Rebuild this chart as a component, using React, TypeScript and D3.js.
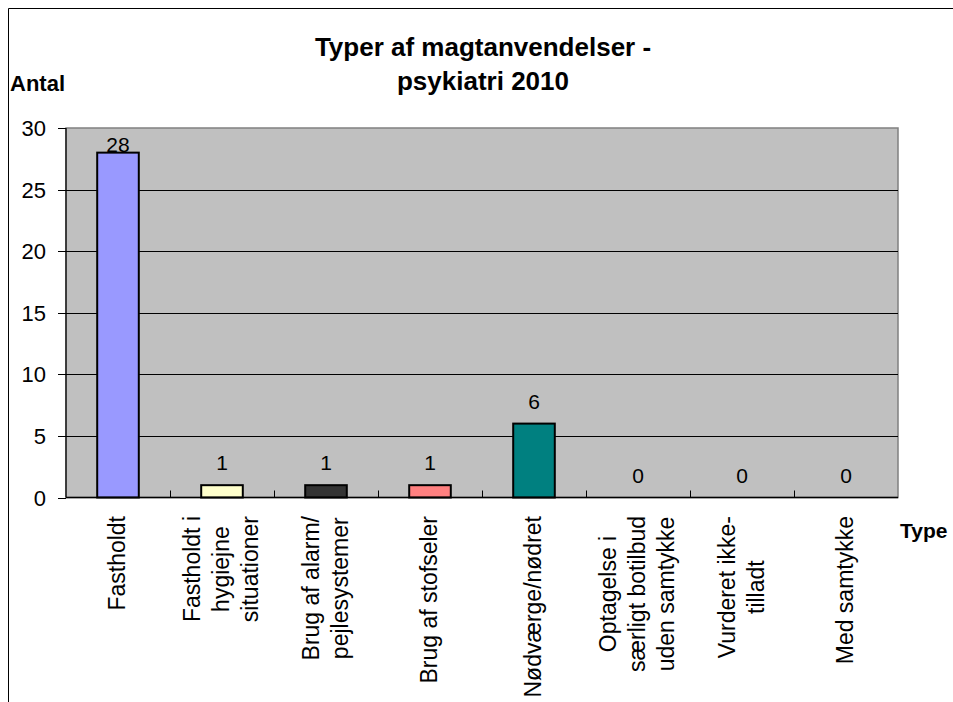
import React, { useEffect, useRef } from "react";
import * as d3 from "d3";

const categories = [
  "Fastholdt",
  "Fastholdt i hygiejne situationer",
  "Brug af alarm/ pejlesystemer",
  "Brug af stofseler",
  "Nødværge/nødret",
  "Optagelse i særligt botilbud uden samtykke",
  "Vurderet ikke-tilladt",
  "Med samtykke",
];
const categoryLines = [
  ["Fastholdt"],
  ["Fastholdt i", "hygiejne", "situationer"],
  ["Brug af alarm/", "pejlesystemer"],
  ["Brug af stofseler"],
  ["Nødværge/nødret"],
  ["Optagelse i", "særligt botilbud", "uden samtykke"],
  ["Vurderet ikke-", "tilladt"],
  ["Med samtykke"],
];
const values = [28, 1, 1, 1, 6, 0, 0, 0];
const barColors = ["#9999ff", "#ffffcc", "#333333", "#ff8080", "#008080", "#9999ff", "#9999ff", "#9999ff"];
const yTicks = [0, 5, 10, 15, 20, 25, 30];
const titleLines = ["Typer af magtanvendelser -", "psykiatri 2010"];
const yAxisTitle = "Antal";
const xAxisTitle = "Type";

const FONT = "'Liberation Sans', Arial, Helvetica, sans-serif";

export default function App() {
  const ref = useRef<SVGSVGElement>(null);

  useEffect(() => {
    const svg = d3.select(ref.current);
    svg.selectAll("*").remove();

    const plot = { left: 66, right: 898, top: 128, bottom: 497.5 };

    const x = d3
      .scaleBand<string>()
      .domain(categories)
      .range([plot.left, plot.right])
      .paddingInner(0.6)
      .paddingOuter(0.3);
    const y = d3.scaleLinear().domain([0, 30]).range([plot.bottom, plot.top]);

    // outer frame (clipped at right/bottom)
    svg.append("rect").attr("x", 0).attr("y", 0).attr("width", 953).attr("height", 702).attr("fill", "#ffffff");
    svg.append("line").attr("x1", 8.5).attr("x2", 953).attr("y1", 8.5).attr("y2", 8.5).attr("stroke", "#000").attr("stroke-width", 1);
    svg.append("line").attr("x1", 8.5).attr("x2", 8.5).attr("y1", 8.5).attr("y2", 702).attr("stroke", "#000").attr("stroke-width", 1);

    // plot background
    svg
      .append("rect")
      .attr("x", plot.left)
      .attr("y", plot.top)
      .attr("width", plot.right - plot.left)
      .attr("height", plot.bottom - plot.top)
      .attr("fill", "#c0c0c0")
      .attr("stroke", "#808080")
      .attr("stroke-width", 1.5);

    // gridlines
    svg
      .append("g")
      .selectAll("line")
      .data(yTicks.filter((t) => t > 0 && t < 30))
      .join("line")
      .attr("x1", plot.left)
      .attr("x2", plot.right)
      .attr("y1", (d) => Math.round(y(d)) + 0.5)
      .attr("y2", (d) => Math.round(y(d)) + 0.5)
      .attr("stroke", "#000")
      .attr("stroke-width", 1);

    // bars
    const idx = categories.map((_, i) => i);
    svg
      .append("g")
      .selectAll("rect")
      .data(idx.filter((i) => values[i] > 0))
      .join("rect")
      .attr("x", (i) => x(categories[i])!)
      .attr("y", (i) => y(values[i]))
      .attr("width", x.bandwidth())
      .attr("height", (i) => y(0) - y(values[i]))
      .attr("fill", (i) => barColors[i])
      .attr("stroke", "#000")
      .attr("stroke-width", 2);

    // axes lines
    svg.append("line").attr("x1", plot.left).attr("x2", plot.left).attr("y1", plot.top).attr("y2", plot.bottom).attr("stroke", "#000").attr("stroke-width", 1.2);
    svg.append("line").attr("x1", plot.left).attr("x2", plot.right).attr("y1", plot.bottom).attr("y2", plot.bottom).attr("stroke", "#000").attr("stroke-width", 1.5);

    // y ticks
    const yt = svg.append("g");
    yt.selectAll("line")
      .data(yTicks)
      .join("line")
      .attr("x1", plot.left - 8)
      .attr("x2", plot.left)
      .attr("y1", (d) => Math.round(y(d)) + 0.5)
      .attr("y2", (d) => Math.round(y(d)) + 0.5)
      .attr("stroke", "#000");
    yt.selectAll("text")
      .data(yTicks)
      .join("text")
      .attr("x", 46)
      .attr("y", (d) => y(d) + 8)
      .attr("text-anchor", "end")
      .attr("font-family", FONT)
      .attr("font-size", 22)
      .attr("fill", "#000")
      .text((d) => String(d));

    // x ticks (inside, at category boundaries)
    const step = x.step();
    const boundaries = d3.range(1, categories.length).map((i) => plot.left + i * step);
    svg
      .append("g")
      .selectAll("line")
      .data(boundaries)
      .join("line")
      .attr("x1", (d) => Math.round(d) + 0.5)
      .attr("x2", (d) => Math.round(d) + 0.5)
      .attr("y1", plot.bottom)
      .attr("y2", plot.bottom - 7)
      .attr("stroke", "#000");

    // value labels
    svg
      .append("g")
      .selectAll("text")
      .data(idx)
      .join("text")
      .attr("x", (i) => x(categories[i])! + x.bandwidth() / 2)
      .attr("y", (i) => Math.max(y(values[i]) - 15, plot.top + 24))
      .attr("text-anchor", "middle")
      .attr("font-family", FONT)
      .attr("font-size", 21)
      .attr("fill", "#000")
      .text((i) => String(values[i]));

    // category labels (rotated)
    const lg = svg.append("g");
    const lineGap = 29;
    idx.forEach((i) => {
      const lines = categoryLines[i];
      const c = x(categories[i])! + x.bandwidth() / 2;
      const texts = lines.map((ln) =>
        lg
          .append("text")
          .attr("font-family", FONT)
          .attr("font-size", 23)
          .attr("fill", "#000")
          .attr("text-anchor", "middle")
          .text(ln)
      );
      const maxW = d3.max(texts, (t) => (t.node() as SVGTextElement).getComputedTextLength()) || 0;
      const cy = 516 + maxW / 2;
      texts.forEach((t, j) => {
        const bx = c + 7 + (j - (lines.length - 1) / 2) * lineGap;
        t.attr("transform", `translate(${bx},${cy}) rotate(-90)`);
      });
    });

    // titles
    svg
      .append("g")
      .selectAll("text")
      .data(titleLines)
      .join("text")
      .attr("x", 483)
      .attr("y", (_, j) => 56 + j * 34)
      .attr("text-anchor", "middle")
      .attr("font-family", FONT)
      .attr("font-size", 26)
      .attr("font-weight", "bold")
      .attr("fill", "#000")
      .text((d) => d);

    svg
      .append("text")
      .attr("x", 10)
      .attr("y", 91)
      .attr("font-family", FONT)
      .attr("font-size", 22)
      .attr("font-weight", "bold")
      .attr("fill", "#000")
      .text(yAxisTitle);

    svg
      .append("text")
      .attr("x", 900)
      .attr("y", 538)
      .attr("font-family", FONT)
      .attr("font-size", 21)
      .attr("font-weight", "bold")
      .attr("fill", "#000")
      .text(xAxisTitle);
  }, []);

  return (
    <svg
      ref={ref}
      width={953}
      height={702}
      style={{ position: "absolute", left: 0, top: 0, display: "block" }}
    />
  );
}
